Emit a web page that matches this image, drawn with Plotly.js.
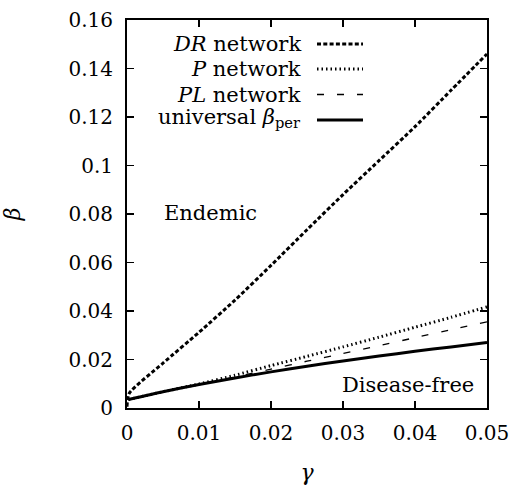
<!DOCTYPE html>
<html>
<head>
<meta charset="utf-8">
<script src="https://cdn.plot.ly/plotly-3.0.1.min.js"></script>
<style>html,body{margin:0;padding:0;background:#fff;}#chart{width:517px;height:485px;}</style>
</head>
<body>
<div id="chart"></div>
<script>
// ---- data ----
var drGamma = [0, 0.0003, 0.005, 0.01, 0.015, 0.02, 0.025, 0.03, 0.035, 0.04, 0.045, 0.05];
var drBeta  = [0.0005, 0.006, 0.0185, 0.0312, 0.0445, 0.0588, 0.0735, 0.088, 0.102, 0.116, 0.131, 0.146];

var gamma   = [0.0002, 0.005, 0.01, 0.015, 0.02, 0.025, 0.03, 0.035, 0.04, 0.045, 0.05];
var pBeta   = [0.0035, 0.0067, 0.0099, 0.0135, 0.0175, 0.0213, 0.0252, 0.0292, 0.0333, 0.0374, 0.0417];
var plBeta  = [0.0035, 0.0067, 0.0098, 0.0128, 0.016, 0.0193, 0.0225, 0.0257, 0.029, 0.0323, 0.0355];
var perBeta = [0.0035, 0.0067, 0.0097, 0.0124, 0.0149, 0.0172, 0.0194, 0.0214, 0.0234, 0.0252, 0.027];

var seriesNames = ['<i>DR</i> network', '<i>P</i> network', '<i>PL</i> network', 'universal <i>β</i><sub>per</sub>'];
var xTicks = [0, 0.01, 0.02, 0.03, 0.04, 0.05];
var yTicks = [0, 0.02, 0.04, 0.06, 0.08, 0.1, 0.12, 0.14, 0.16];
var regionLabels = ['Endemic', 'Disease-free'];

// ---- styles ----
var FONT = 'DejaVu Serif';
var styles = [
  {width: 3, dash: '4px,2.3px'},
  {width: 3, dash: '1.5px,3px'},
  {width: 1.3, dash: '7px,13px'},
  {width: 3, dash: 'solid'}
];
var xs = [drGamma, gamma, gamma, gamma];
var ys = [drBeta, pBeta, plBeta, perBeta];

var traces = [];
for (var i = 0; i < 4; i++) {
  traces.push({
    x: xs[i], y: ys[i], name: seriesNames[i], type: 'scatter', mode: 'lines',
    line: {color: '#000', width: styles[i].width, dash: styles[i].dash, shape: 'spline', smoothing: 0.6},
    showlegend: false, hoverinfo: 'skip'
  });
}

var H = 485, W = 517;
var L = 127, R = 30, T = 20, B = 77;
var pw = W - L - R, ph = H - T - B;
function px2paperX(px) { return (px - L) / pw; }
function px2paperY(py) { return (H - B - py) / ph; }

// custom legend: text right-aligned, sample line on the right (gnuplot style)
var legendY = [44, 69, 94.5, 120];
var annotations = [], shapes = [];
for (var j = 0; j < 4; j++) {
  annotations.push({
    xref: 'paper', yref: 'paper', x: px2paperX(303), y: px2paperY(legendY[j] - (j === 3 ? 2 : 0)),
    text: seriesNames[j], showarrow: false,
    font: {family: FONT, size: 21, color: '#000'}, xanchor: 'right', yanchor: 'middle'
  });
  shapes.push({
    type: 'line', xref: 'paper', yref: 'paper',
    x0: px2paperX(317), x1: px2paperX(363), y0: px2paperY(legendY[j]), y1: px2paperY(legendY[j]),
    line: {color: '#000', width: styles[j].width, dash: styles[j].dash}
  });
}
annotations.push({xref: 'paper', yref: 'paper', x: px2paperX(210), y: px2paperY(213), text: regionLabels[0],
  showarrow: false, font: {family: FONT, size: 21, color: '#000'}, xanchor: 'center', yanchor: 'middle'});
annotations.push({xref: 'paper', yref: 'paper', x: px2paperX(408), y: px2paperY(385), text: regionLabels[1],
  showarrow: false, font: {family: FONT, size: 21, color: '#000'}, xanchor: 'center', yanchor: 'middle'});

var axisCommon = {
  showline: true, linecolor: '#000', linewidth: 2, mirror: 'allticks',
  ticks: 'inside', ticklen: 7, tickwidth: 1.5, tickcolor: '#000',
  showgrid: false, zeroline: false,
  tickfont: {family: FONT, size: 20, color: '#000'}
};

var layout = {
  width: W, height: H,
  font: {family: FONT, size: 20, color: '#000'},
  margin: {l: L, r: R, t: T, b: B, pad: 0},
  paper_bgcolor: '#fff', plot_bgcolor: '#fff',
  xaxis: Object.assign({}, axisCommon, {
    range: [0, 0.05], tickvals: xTicks, ticktext: xTicks.map(String),
    ticklabelstandoff: 6,
    title: {text: '<i>γ</i>', font: {family: FONT, size: 22, color: '#000'}, standoff: 25}
  }),
  yaxis: Object.assign({}, axisCommon, {
    range: [0, 0.16], tickvals: yTicks, ticktext: yTicks.map(String),
    ticklabelstandoff: 8,
    title: {text: '<i>β</i>', font: {family: FONT, size: 22, color: '#000'}, standoff: 42}
  }),
  annotations: annotations,
  shapes: shapes
};

Plotly.newPlot('chart', traces, layout, {staticPlot: true, displayModeBar: false});
</script>
</body>
</html>
